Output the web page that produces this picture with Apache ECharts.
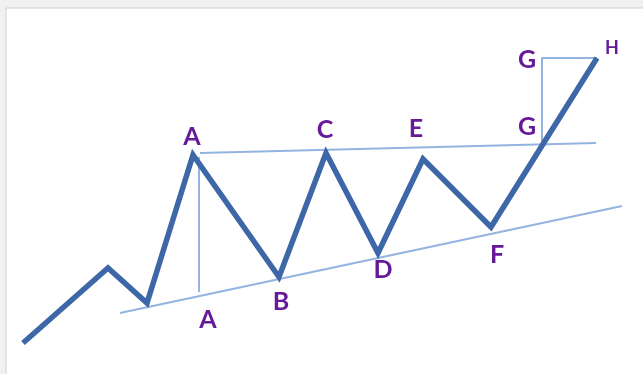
<!DOCTYPE html>
<html>
<head>
<meta charset="utf-8">
<script src="https://cdn.jsdelivr.net/npm/echarts@6/dist/echarts.min.js"></script>
<style>
  html, body { margin: 0; padding: 0; background: #f1f1f1; }
  #chart { width: 643px; height: 374px; }
</style>
</head>
<body>
<div id="chart"></div>
<script>
// Ascending triangle sketch. x runs left to right, y is "price" (up = higher).
const priceX = [23, 108, 147, 193, 279, 326, 378, 423, 491, 597];
const priceY = [31, 106, 71, 219, 97, 221, 121, 215, 147, 316];

// resistance (flat-ish top) and rising support
const resistX = [200, 596];
const resistY = [221, 231];
const supportX = [120, 622];
const supportY = [61, 168];

// measuring lines: A height, then G projected up to H
const heightAX = [199, 199];
const heightAY = [217, 82];
const targetGX = [542, 542, 597];
const targetGY = [228, 316, 316];

// point labels
const labelNames = ["A", "A", "B", "C", "D", "E", "F", "G", "G", "H"];
const labelX = [192, 208, 281, 325, 383, 416, 497, 527, 527, 612];
const labelY = [237, 54, 72, 244, 104, 245, 119, 247, 314, 326];

const zip = (xs, ys) => xs.map((x, i) => [x, ys[i]]);

const MAIN = "#3d67a6";
const THIN = "#93b4e0";
const PURPLE = "#661a98";

const chart = echarts.init(document.getElementById("chart"), null, { renderer: "canvas" });

function thinLine(xs, ys) {
  return {
    type: "line",
    data: zip(xs, ys),
    showSymbol: false,
    silent: true,
    lineStyle: { color: THIN, width: 2 },
    z: 2
  };
}

// scatter items default to 0.8 opacity, which washes the letters out
const labelStyle = {
  show: true,
  position: "inside",
  formatter: "{b}",
  color: PURPLE,
  opacity: 1,
  textBorderWidth: 0,
  textBorderColor: "transparent",
  fontFamily: "Lato",
  fontWeight: "bold",
  fontSize: 25
};

chart.setOption({
  animation: false,
  backgroundColor: "#f1f1f1",
  grid: { left: 6, top: 8, right: 0, bottom: 0, containLabel: false },
  graphic: [{
    type: "rect",
    shape: { x: 6, y: 8, width: 700, height: 400 },
    style: { fill: "#ffffff", stroke: "#cfcfcf", lineWidth: 1 },
    z: -10,
    silent: true
  }],
  xAxis: { type: "value", min: 6, max: 643, show: false },
  yAxis: { type: "value", min: 0, max: 366, show: false },
  series: [
    thinLine(resistX, resistY),
    thinLine(supportX, supportY),
    thinLine(heightAX, heightAY),
    thinLine(targetGX, targetGY),
    {
      type: "line",
      data: zip(priceX, priceY),
      showSymbol: false,
      silent: true,
      lineStyle: { color: MAIN, width: 5.5, join: "miter", cap: "butt" },
      z: 3
    },
    {
      type: "scatter",
      symbolSize: 0,
      silent: true,
      itemStyle: { color: PURPLE, opacity: 1 },
      data: labelNames.map((n, i) => ({
        name: n,
        value: [labelX[i], labelY[i]],
        label: n === "H" ? Object.assign({}, labelStyle, { fontSize: 18 }) : labelStyle
      })),
      label: labelStyle,
      z: 4
    }
  ]
});
</script>
</body>
</html>
